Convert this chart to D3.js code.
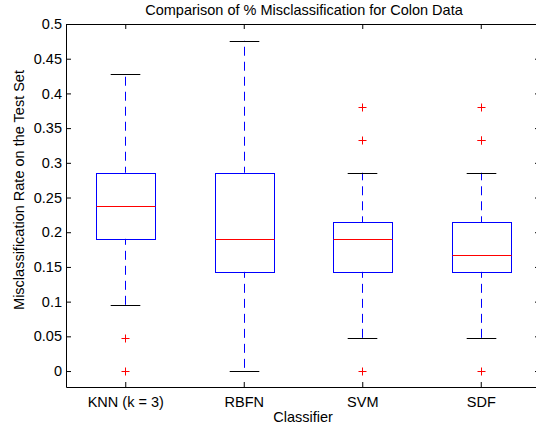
<!DOCTYPE html>
<html>
<head>
<meta charset="utf-8">
<script src="https://cdn.jsdelivr.net/npm/d3@7"></script>
<style>
body { margin: 0; background: #fff; }
text { font-family: "Liberation Sans", Arial, sans-serif; fill: #000; }
</style>
</head>
<body>
<div id="svg-container"></div>
<script>
// box plot summary (values are multiples of 1/21)
var classifiers = ["KNN (k = 3)", "RBFN", "SVM", "SDF"];
var whiskerLow  = [0.0952, 0.0, 0.0476, 0.0476];
var q1          = [0.1905, 0.1429, 0.1429, 0.1429];
var medians     = [0.2381, 0.1905, 0.1905, 0.1667];
var q3          = [0.2857, 0.2857, 0.2143, 0.2143];
var whiskerHigh = [0.4286, 0.4762, 0.2857, 0.2857];
var outliers    = [[0.0476, 0.0], [], [0.381, 0.3333, 0.0], [0.381, 0.3333, 0.3333, 0.0]];
var yTicks = [0, 0.05, 0.1, 0.15, 0.2, 0.25, 0.3, 0.35, 0.4, 0.45, 0.5];

var W = 536, H = 429;
var mLeft = 66, mRight = 540, mTop = 24, mBottom = 387;
var fs = 14.5;

var svg = d3.select("#svg-container").append("svg").attr("width", W).attr("height", H);

var x = d3.scaleLinear().domain([0.5, 4.5]).range([mLeft, mRight]);
var y = d3.scaleLinear().domain([-0.023, 0.5]).range([mBottom, mTop]);

var g = svg.append("g");

// boxes
classifiers.forEach(function(c, i) {
    var cx = Math.round(x(i + 1)) + 0.5;
    var bw = x(1.25) - x(1);
    var cw = x(1.125) - x(1);

    // whiskers
    g.append("line").attr("x1", cx).attr("x2", cx).attr("y1", y(q3[i])).attr("y2", y(whiskerHigh[i]))
        .attr("stroke", "#0000ff").attr("stroke-dasharray", "9,6").attr("stroke-dashoffset", 3);
    g.append("line").attr("x1", cx).attr("x2", cx).attr("y1", y(q1[i])).attr("y2", y(whiskerLow[i]))
        .attr("stroke", "#0000ff").attr("stroke-dasharray", "9,6").attr("stroke-dashoffset", 3);

    // caps
    [whiskerLow[i], whiskerHigh[i]].forEach(function(v) {
        g.append("line").attr("x1", cx - cw).attr("x2", cx + cw).attr("y1", Math.round(y(v)) + 0.5).attr("y2", Math.round(y(v)) + 0.5)
            .attr("stroke", "#000").attr("stroke-width", 1);
    });

    g.append("rect").attr("x", Math.round(cx - bw) + 0.5).attr("y", Math.round(y(q3[i])) + 0.5)
        .attr("width", Math.round(2 * bw)).attr("height", Math.round(y(q1[i]) - y(q3[i])))
        .attr("fill", "none").attr("stroke", "#0000ff");

    g.append("line").attr("x1", Math.round(cx - bw) + 0.5).attr("x2", Math.round(cx + bw) + 0.5)
        .attr("y1", Math.round(y(medians[i])) + 0.5).attr("y2", Math.round(y(medians[i])) + 0.5)
        .attr("stroke", "#ff0000");

    outliers[i].forEach(function(v) {
        var py = Math.round(y(v)) + 0.5, px = cx;
        g.append("path").attr("d", "M" + (px - 4) + "," + py + "H" + (px + 4) + "M" + px + "," + (py - 4) + "V" + (py + 4))
            .attr("stroke", "#ff0000").attr("fill", "none");
    });
});

// axes (MATLAB style, ticks pointing in)
var yAxisL = d3.axisLeft(y).tickValues(yTicks).tickSizeInner(-5).tickSizeOuter(0).tickPadding(4)
    .tickFormat(function(d) { return String(+d.toFixed(2)); });
var yAxisR = d3.axisRight(y).tickValues(yTicks).tickSizeInner(-5).tickSizeOuter(0).tickFormat("");
var xAxisB = d3.axisBottom(x).tickValues([1, 2, 3, 4]).tickSizeInner(-5).tickSizeOuter(0).tickPadding(10)
    .tickFormat(function(d) { return classifiers[d - 1]; });
var xAxisT = d3.axisTop(x).tickValues([1, 2, 3, 4]).tickSizeInner(-5).tickSizeOuter(0).tickFormat("");

function styleAxis(sel) {
    sel.selectAll("path.domain").attr("stroke", "#000");
    sel.selectAll(".tick line").attr("stroke", "#000");
    sel.selectAll("text").attr("font-size", fs).attr("font-family", "Liberation Sans, Arial, sans-serif");
}

svg.append("g").attr("transform", "translate(" + mLeft + ",0)").call(yAxisL).call(styleAxis);
svg.append("g").attr("transform", "translate(" + mRight + ",0)").call(yAxisR).call(styleAxis);
svg.append("g").attr("transform", "translate(0," + mBottom + ")").call(xAxisB).call(styleAxis);
svg.append("g").attr("transform", "translate(0," + mTop + ")").call(xAxisT).call(styleAxis);

// labels
svg.append("text").attr("x", 304).attr("y", 15).attr("text-anchor", "middle").attr("font-size", fs)
    .text("Comparison of % Misclassification for Colon Data");
svg.append("text").attr("x", 303).attr("y", 422).attr("text-anchor", "middle").attr("font-size", fs)
    .text("Classifier");
svg.append("text").attr("transform", "translate(24,190) rotate(-90)").attr("text-anchor", "middle").attr("font-size", fs)
    .text("Misclassification Rate on the Test Set");
</script>
</body>
</html>
